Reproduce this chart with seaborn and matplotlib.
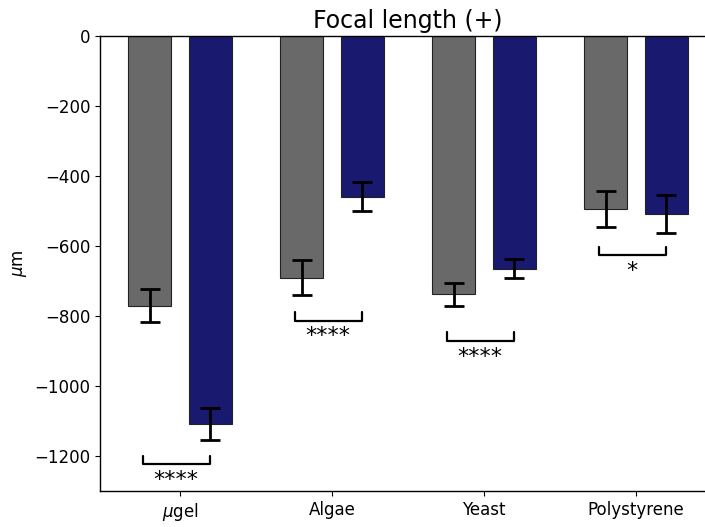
import matplotlib
matplotlib.use("Agg")
import matplotlib.pyplot as plt
import seaborn as sns
import pandas as pd
import numpy as np

categories = ["$\\mu$gel", "Algae", "Yeast", "Polystyrene"]
series = ["Series 1", "Series 2"]
means_1 = [-771, -690, -738, -495]
err_1 = [47, 50, 33, 52]
means_2 = [-1108, -459, -665, -509]
err_2 = [46, 41, 27, 54]
sig_labels = ["****", "****", "****", "*"]
bracket_y = [-1199, -788, -847, -602]
title = "Focal length (+)"
ylabel = "$\\mu$m"

df = pd.DataFrame({
    "category": categories * 2,
    "series": [series[0]] * 4 + [series[1]] * 4,
    "value": means_1 + means_2,
})

sns.set_style("ticks")
plt.rcParams["font.family"] = ["DejaVu Sans"]
for k in ["text.color", "axes.labelcolor", "xtick.color", "ytick.color", "axes.edgecolor"]:
    plt.rcParams[k] = "black"

fig = plt.figure(figsize=(7.05, 5.27), dpi=100)
ax = fig.add_axes([100 / 705, 1 - 491 / 527, 615 / 705, (491 - 36) / 527])

sns.barplot(data=df, x="category", y="value", hue="series", order=categories,
            hue_order=series, palette=["#696969", "#191970"], saturation=1,
            width=0.8, gap=0.3, errorbar=None, edgecolor="#222222", linewidth=0.8,
            legend=False, ax=ax)

# error bars at bar centers
patches = sorted(ax.patches, key=lambda p: p.get_x())
errs, vals = [], []
for i in range(len(categories)):
    errs += [err_1[i], err_2[i]]
    vals += [means_1[i], means_2[i]]
xs = [p.get_x() + p.get_width() / 2 for p in patches]
ax.errorbar(xs, vals, yerr=errs, fmt="none", ecolor="black", elinewidth=2,
            capsize=7, capthick=2, zorder=5)

# significance brackets
for i, (lab, yb) in enumerate(zip(sig_labels, bracket_y)):
    x0, x1 = i - 0.245, i + 0.195
    h = 25
    ax.plot([x0, x0, x1, x1], [yb, yb - h, yb - h, yb], color="black", lw=1.6)
    ax.text((x0 + x1) / 2, yb - h - 16, lab, ha="center", va="top", fontsize=16)

ax.set_ylim(-1300, 0)
ax.set_xlim(-0.526, 3.52)
ax.set_yticks(np.arange(-1200, 1, 200))
ax.tick_params(axis="both", labelsize=12, colors="black")
ax.set_xlabel("")
ax.set_ylabel(ylabel, fontsize=12)
ax.set_title(title, fontsize=17)
ax.spines["right"].set_visible(False)
for s in ["left", "bottom", "top"]:
    ax.spines[s].set_color("black")
    ax.spines[s].set_linewidth(1.0)

fig.savefig("out.png", dpi=100)
